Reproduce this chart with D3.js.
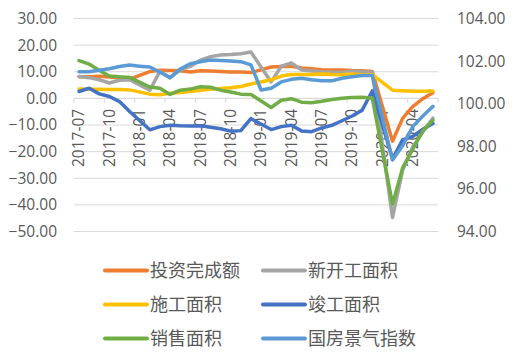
<!DOCTYPE html>
<html>
<head>
<meta charset="utf-8">
<script src="https://cdn.jsdelivr.net/npm/d3@7"></script>
<style>
  body { margin: 0; background: #fff; }
  svg { display: block; }
  .axis text { font-family: "Open Sans", sans-serif; font-size: 15.5px; fill: #595959; }
  .legend text { font-family: "Noto Sans CJK SC", sans-serif; font-size: 18px; fill: #595959; }
</style>
</head>
<body>
<svg width="515" height="360"></svg>
<script>
// months on the category axis (Jan has no release, so the lines skip it)
const months = [
  '2017-07', '2017-08', '2017-09', '2017-10', '2017-11', '2017-12',
  '2018-01', '2018-02', '2018-03', '2018-04', '2018-05', '2018-06',
  '2018-07', '2018-08', '2018-09', '2018-10', '2018-11', '2018-12',
  '2019-01', '2019-02', '2019-03', '2019-04', '2019-05', '2019-06',
  '2019-07', '2019-08', '2019-09', '2019-10', '2019-11', '2019-12',
  '2020-01', '2020-02', '2020-03', '2020-04', '2020-05', '2020-06'
];

// left axis series (cumulative yoy, %)
const invest = [7.9, 7.9, 8.1, 7.8, 7.5, 7.0, null, 9.9, 10.4, 10.3, 10.2, 9.7,
  10.2, 10.1, 9.9, 9.7, 9.7, 9.5, null, 11.6, 11.8, 11.9, 11.2, 10.9,
  10.6, 10.5, 10.5, 10.3, 10.2, 9.9, null, -16.3, -7.7, -3.3, -0.3, 1.9];
const newStart = [8.0, 7.6, 6.8, 5.6, 6.6, 6.8, null, 2.9, 10.0, 7.5, 10.5, 11.8,
  14.2, 15.5, 16.1, 16.3, 16.6, 17.2, null, 6.0, 11.9, 13.1, 10.5, 10.1,
  9.8, 9.6, 9.5, 10.0, 9.8, 9.6, null, -44.9, -27.2, -18.4, -12.8, -7.6];
const underway = [3.3, 3.2, 3.2, 3.1, 3.1, 3.0, null, 1.4, 1.2, 1.7, 2.0, 2.4,
  2.9, 3.2, 3.5, 3.8, 4.3, 5.2, null, 6.8, 8.2, 8.8, 8.8, 8.8,
  9.0, 8.8, 8.7, 9.0, 8.7, 8.7, null, 2.9, 2.7, 2.5, 2.5, 2.6];
const completed = [2.4, 3.6, 1.5, 0.5, -1.4, -5.1, null, -12.0, -10.8, -10.3, -10.5, -10.6,
  -10.5, -11.0, -11.6, -12.5, -12.3, -7.8, null, -11.9, -10.8, -10.3, -12.4, -12.7,
  -11.3, -10.3, -8.6, -6.8, -4.6, 2.6, null, -22.9, -15.8, -14.5, -11.8, -9.6];
const sold = [14.0, 12.7, 10.3, 8.2, 7.9, 7.7, null, 4.1, 3.6, 1.3, 2.9, 3.3,
  4.2, 4.0, 2.9, 2.2, 1.4, 1.3, null, -3.6, -0.9, -0.3, -1.6, -1.8,
  -1.3, -0.6, -0.1, 0.1, 0.2, -0.1, null, -39.9, -26.3, -19.3, -12.3, -8.4];

// right axis series (climate index)
const climate = [101.48, 101.48, 101.55, 101.62, 101.72, 101.79, 101.74, 101.7, 101.45, 101.2, 101.6, 101.85,
  101.95, 102.03, 102.0, 101.98, 101.95, 101.8, 100.62, 100.7, 101.0, 101.12, 101.17, 101.1,
  101.05, 101.05, 101.17, 101.24, 101.3, 101.3, null, 97.33, 98.0, 98.9, 99.4, 99.85];

const leftTicks = [30, 20, 10, 0, -10, -20, -30, -40, -50];
const rightTicks = [104, 102, 100, 98, 96, 94];
const labelMonths = months.filter((m, i) => i % 3 === 0);

const seriesNames = ['投资完成额', '新开工面积', '施工面积', '竣工面积', '销售面积', '国房景气指数'];
const seriesColors = ['#ED7D31', '#A5A5A5', '#FFC000', '#4472C4', '#70AD47', '#5B9BD5'];
const seriesValues = [invest, newStart, underway, completed, sold, climate];
const seriesAxis = ['left', 'left', 'left', 'left', 'left', 'right'];

const svg = d3.select('svg');
const plotL = 74, plotR = 438, plotT = 18, plotB = 231;

const x = d3.scaleBand().domain(months).range([plotL, plotR]);
const yL = d3.scaleLinear().domain([-50, 30]).range([plotB, plotT]);
const yR = d3.scaleLinear().domain([94, 104]).range([plotB, plotT]);
const cx = m => x(m) + x.bandwidth() / 2;

// gridlines
svg.append('g')
  .attr('transform', `translate(${plotL},0)`)
  .call(d3.axisLeft(yL).tickValues(leftTicks).tickSize(-(plotR - plotL)).tickFormat(''))
  .call(g => g.select('.domain').remove())
  .call(g => g.selectAll('line').attr('stroke', '#D9D9D9').attr('stroke-width', 1));

// left / right value axes
svg.append('g')
  .attr('class', 'axis')
  .attr('transform', 'translate(57,0)')
  .call(d3.axisLeft(yL).tickValues(leftTicks).tickSize(0).tickPadding(0).tickFormat(d3.format('.2f')))
  .call(g => g.select('.domain').remove())
  .call(g => g.selectAll('text').attr('dy', '0.35em'));

svg.append('g')
  .attr('class', 'axis')
  .attr('transform', 'translate(457,0)')
  .call(d3.axisRight(yR).tickValues(rightTicks).tickSize(0).tickPadding(0).tickFormat(d3.format('.2f')))
  .call(g => g.select('.domain').remove())
  .call(g => g.selectAll('text').attr('dy', '0.35em'));

// category axis on zero line
const xAxis = svg.append('g')
  .attr('class', 'axis')
  .attr('transform', `translate(0,${yL(0)})`);

xAxis.call(d3.axisBottom(x).tickValues(labelMonths).tickSize(0).tickSizeOuter(0))
  .call(g => g.select('.domain').attr('stroke', '#D9D9D9'))
  .call(g => g.selectAll('.tick text')
    .attr('transform', 'rotate(-90)')
    .attr('text-anchor', 'end')
    .attr('x', -11)
    .attr('y', 0)
    .attr('dy', '0.35em'));

const tickEdges = months.filter((m, i) => i % 3 === 0).map(m => x(m)).concat([plotR]);
xAxis.selectAll('.edge')
  .data(tickEdges)
  .enter().append('line')
    .attr('class', 'edge')
    .attr('x1', d => d).attr('x2', d => d)
    .attr('y1', 0).attr('y2', 5)
    .attr('stroke', '#D9D9D9');

// series lines (gaps bridged like the original)
seriesValues.forEach((vals, k) => {
  const y = seriesAxis[k] === 'left' ? yL : yR;
  const pts = months.map((m, i) => [m, vals[i]]).filter(p => p[1] != null);
  const line = d3.line().x(p => cx(p[0])).y(p => y(p[1]));
  svg.append('path')
    .datum(pts)
    .attr('fill', 'none')
    .attr('stroke', seriesColors[k])
    .attr('stroke-width', 3.5)
    .attr('stroke-linejoin', 'round')
    .attr('stroke-linecap', 'round')
    .attr('d', line);
});

// legend
const legend = svg.append('g').attr('class', 'legend');
const item = legend.selectAll('g')
  .data(seriesNames)
  .enter().append('g')
    .attr('transform', (d, i) => `translate(${[105, 263][i % 2]},${[270.5, 304.5, 338.5][Math.floor(i / 2)]})`);

item.append('line')
  .attr('x1', 0).attr('x2', 42)
  .attr('stroke', (d, i) => seriesColors[i])
  .attr('stroke-width', 4)
  .attr('stroke-linecap', 'round');

item.append('text')
  .attr('x', 45)
  .attr('dy', '0.35em')
  .text(d => d);
</script>
</body>
</html>
